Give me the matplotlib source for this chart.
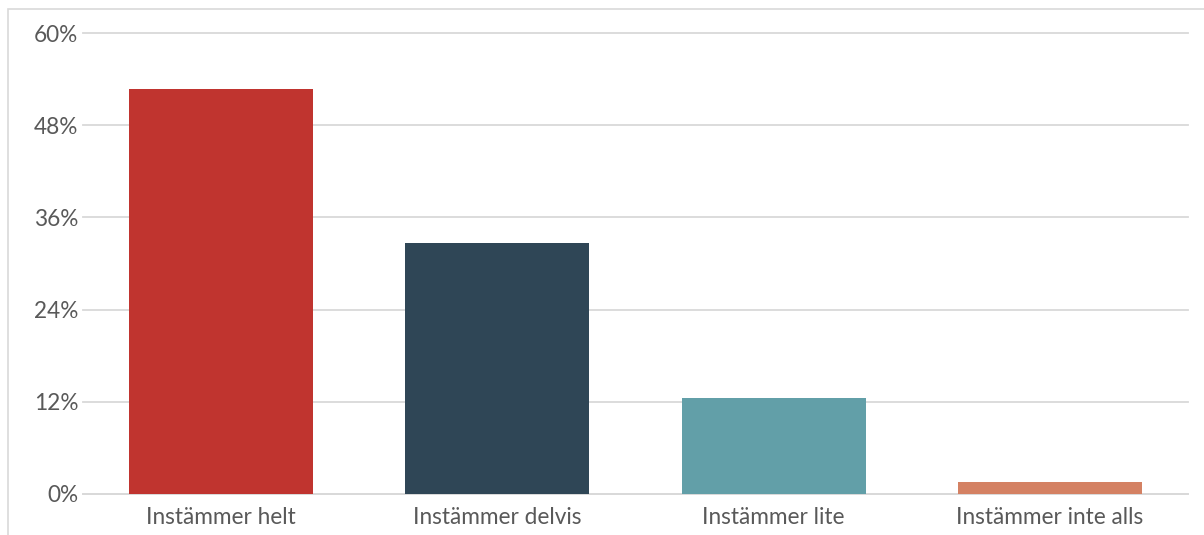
import matplotlib.pyplot as plt
from matplotlib.patches import Rectangle
from matplotlib.ticker import FuncFormatter

categories = ["Instämmer helt", "Instämmer delvis", "Instämmer lite", "Instämmer inte alls"]
values = [52.7, 32.7, 12.5, 1.6]
colors = ["#C0342F", "#2F4656", "#629FA8", "#D48163"]
yticks = [0, 12, 24, 36, 48, 60]

plt.rcParams['font.family'] = ['Lato', 'DejaVu Sans']

fig = plt.figure(figsize=(12.04, 5.35), dpi=100)
# light frame around the chart
fig.patches.append(Rectangle((8 / 1204, -0.1), 1.2, 1 - 9 / 535 + 0.1,
                             transform=fig.transFigure, fill=False,
                             edgecolor="#D9D9D9", linewidth=1.2))
ax = fig.add_axes([83 / 1204, 1 - 494 / 535, (1188 - 83) / 1204, (494 - 33) / 535])

x = range(len(categories))
ax.bar(x, values, width=0.666, color=colors, zorder=3)
ax.set_xlim(-0.5, len(categories) - 0.5)
ax.set_ylim(0, 60)
ax.set_yticks(yticks)
ax.yaxis.set_major_formatter(FuncFormatter(lambda v, p: f"{v:.0f}%"))
ax.set_xticks(list(x))
ax.set_xticklabels(categories)
ax.grid(axis="y", color="#D9D9D9", linewidth=1.3, zorder=0)
for gl in ax.get_ygridlines():
    gl.set_clip_on(False)
for s in ["top", "right", "left"]:
    ax.spines[s].set_visible(False)
ax.spines["bottom"].set_color("#D9D9D9")
ax.spines["bottom"].set_linewidth(1.3)
ax.tick_params(axis="both", length=0, labelsize=16.3, colors="#595959")
ax.tick_params(axis="y", pad=3.5)
ax.tick_params(axis="x", pad=9.5)

fig.savefig("out.png", dpi=100)
